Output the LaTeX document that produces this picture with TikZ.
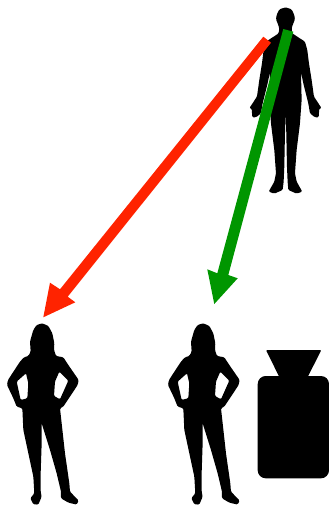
\documentclass[tikz,border=0pt]{standalone}
\definecolor{arrowred}{RGB}{255,35,0}
\definecolor{arrowgreen}{RGB}{0,150,0}
\tikzset{
  sil/.style={fill=black,draw=none,rounded corners=1.2pt},
  thumbpx/.style={x=0.3333pt,y=-0.3333pt},
  redarrow/.style={fill=arrowred,draw=none},
  greenarrow/.style={fill=arrowgreen,draw=none}
}
\def\womanpath{
 (127,40) -- (145,48) -- (157,70) -- (163,100) -- (162,120) -- (168,138) -- (190,142) -- (205,165) -- (236,210) -- (233,225) -- (210,260) -- (190,290) -- (180,295) -- (185,340) -- (195,430) -- (208,520) -- (210,545) -- (236,572) -- (230,584) -- (205,578) -- (183,565) -- (183,545) -- (170,490) -- (150,420) -- (125,340) -- (125,400) -- (122,490) -- (122,545) -- (125,560) -- (115,584) -- (100,583) -- (91,565) -- (103,550) -- (100,500) -- (85,430) -- (70,360) -- (67,295) -- (50,290) -- (40,265) -- (21,225) -- (24,210) -- (60,155) -- (72,142) -- (85,138) -- (92,125) -- (90,95) -- (100,60) -- (110,45) -- cycle
 (178,185) -- (205,212) -- (180,268) -- (162,258) -- (165,215) -- cycle
 (78,190) -- (50,215) -- (62,270) -- (82,265) -- (85,220) -- cycle
}
\begin{document}
\begin{tikzpicture}[x=1pt,y=-1pt]
\useasboundingbox (0,0) rectangle (329,506);
% man
\begin{scope}[thumbpx,shift={(720,0)}]
\fill[sil] (137,22) -- (155,28) -- (163,45) -- (165,58) -- (160,70) -- (155,85) -- (157,100) -- (175,112) -- (195,125) -- (202,150) -- (207,190) -- (215,240) -- (222,290) -- (232,305) -- (245,325) -- (238,325) -- (236,352) -- (225,352) -- (210,340) -- (205,310) -- (190,250) -- (183,215) -- (185,300) -- (180,370) -- (170,450) -- (165,520) -- (170,545) -- (187,575) -- (170,581) -- (145,570) -- (143,545) -- (141,500) -- (139,400) -- (137,340) -- (135,400) -- (133,500) -- (131,545) -- (128,570) -- (103,581) -- (86,575) -- (103,545) -- (108,520) -- (103,450) -- (93,370) -- (88,300) -- (90,215) -- (83,250) -- (68,310) -- (63,340) -- (48,352) -- (37,352) -- (35,325) -- (28,325) -- (41,305) -- (51,290) -- (58,240) -- (66,190) -- (71,150) -- (78,125) -- (98,112) -- (116,100) -- (118,85) -- (113,70) -- (108,58) -- (110,45) -- (118,28) -- cycle;
\end{scope}
% women
\begin{scope}[thumbpx,shift={(0,930)}]
\fill[sil,even odd rule] \womanpath;
\end{scope}
\begin{scope}[thumbpx,shift={(483,930)}]
\fill[sil,even odd rule] \womanpath;
\end{scope}
% weight
\fill[sil,rounded corners=8pt] (257.7,376) rectangle (329,478.3);
\fill[sil,rounded corners=1pt] (266,350) -- (321.3,350) -- (307.7,377) -- (279.3,377) -- cycle;
% arrows
\fill[redarrow] (263.3,36.7) -- (271,42.7) -- (67.7,296.7) -- (75.3,302.3) -- (43.3,317.3) -- (50,282.7) -- (60,289.3) -- cycle;
\fill[greenarrow] (283.3,29) -- (293.3,31.7) -- (228.3,275) -- (237.7,278.3) -- (214.3,304) -- (207.3,269.3) -- (217.3,273.3) -- cycle;
\end{tikzpicture}
\end{document}
